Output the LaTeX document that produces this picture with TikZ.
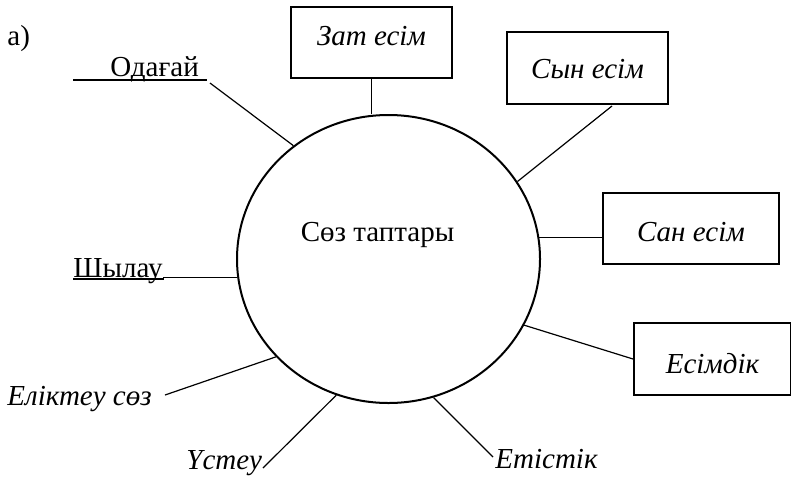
\documentclass[tikz,border=0pt]{standalone}
\usepackage{fontspec}
\setmainfont{Liberation Serif}
\usetikzlibrary{shapes.geometric}
\begin{document}
\begin{tikzpicture}[x=0.5pt,y=-0.5pt,
  every node/.style={inner sep=0pt, font=\fontsize{14.5}{17}\selectfont},
  wbox/.style={draw, line width=1pt, anchor=north west, font=\fontsize{14.5}{17}\selectfont\itshape, text height=10pt, text depth=0pt},
  conn/.style={line width=0.6pt},
  uline/.style={line width=1pt},
  lbl/.style={anchor=base west},
  ilbl/.style={anchor=base west, font=\fontsize{14.5}{17}\selectfont\itshape}]
\useasboundingbox (0,0) rectangle (791,477);
% central ellipse
\node[draw, ellipse, line width=1pt, minimum width=151.5pt, minimum height=144pt] (c) at (388.5,259) {};
\node[anchor=base] (ctext) at (377.5,241) {Сөз таптары};
% label a)
\node[lbl] (alabel) at (7,45) {а)};
% boxes
\node[wbox, minimum width=80.5pt, minimum height=35.5pt, text depth=7.5pt] (zat) at (290,6) {Зат есім};
\node[wbox, minimum width=80.5pt, minimum height=36pt] (syn) at (506,31) {Сын есім};
\node[wbox, minimum width=88pt, minimum height=35.5pt, text height=12.5pt] (san) at (602,192) {Сан есім};
\node[wbox, minimum width=78.5pt, minimum height=36pt, text height=14pt] (esim) at (633,322) {Есімдік};
% free labels
\node[lbl] (odagai) at (110,76) {Одағай};
\node[lbl] (shylau) at (73,277) {Шылау};
\node[ilbl] (elik) at (7,405) {Еліктеу сөз};
\node[ilbl] (ustey) at (186,469) {Үстеу};
\node[ilbl] (etis) at (495,468) {Етістік};
% underlines
\coordinate (odu1) at (73,80);
\coordinate (odu2) at (207,80);
\draw[uline] (odu1) -- (odu2);
\coordinate (shu1) at (73,279);
\coordinate (shu2) at (164,279);
\draw[uline] (shu1) -- (shu2);
% connector free ends
\coordinate (odend) at (210,83);
\coordinate (synend) at (612,106);
\coordinate (etend) at (493,457);
\coordinate (usend) at (263,468);
\coordinate (elend) at (165,395);
% connectors
\draw[conn] (odend) -- (c.130);
\draw[conn] (zat.south) -- (zat.south |- c.north);
\draw[conn] (synend) -- (c.31.6);
\draw[conn] (c.8) -- (c.8 -| san.west);
\draw[conn] (c.-26) -- (esim.west);
\draw[conn] (c.-72) -- (etend);
\draw[conn] (c.249) -- (usend);
\draw[conn] (c.221) -- (elend);
\draw[conn] (c.187) -- (c.187 -| shylau.east);
\end{tikzpicture}
\end{document}
